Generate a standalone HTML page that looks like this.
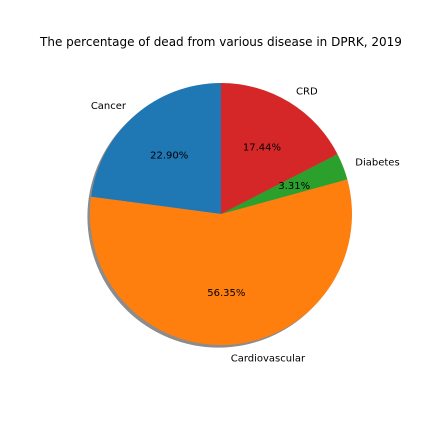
<!DOCTYPE html>
<html><head><meta charset="utf-8"><style>
body{margin:0;background:#fff}
svg{display:block;font-family:"DejaVu Sans","Liberation Sans",sans-serif}
</style></head><body>
<svg id="chart" width="432" height="432" viewBox="0 0 432 432">
<rect width="432" height="432" fill="#fff"/>
<text x="221" y="46" font-size="12" text-anchor="middle">The percentage of dead from various disease in DPRK, 2019</text>
<g id="shadow"></g>
<g id="slices"></g>
<g id="labels"></g>
</svg>
<script>
const categories=["Cancer","Cardiovascular","Diabetes","CRD"];
const values=[22.90,56.35,3.31,17.44];
const colors=["#1f77b4","#ff7f0e","#2ca02c","#d62728"];
const cx=221,cy=214,R=131;
const ns="http://www.w3.org/2000/svg";
const total=values.reduce((a,b)=>a+b,0);
function pt(deg,r){const a=deg*Math.PI/180;return [cx+r*Math.cos(a),cy-r*Math.sin(a)];}
const sh=document.createElementNS(ns,"circle");
sh.setAttribute("cx",cx-2.6);sh.setAttribute("cy",cy+2.6);sh.setAttribute("r",R);
sh.setAttribute("fill","#000");sh.setAttribute("fill-opacity","0.45");


document.getElementById("shadow").appendChild(sh);
let start=90;
values.forEach((v,i)=>{
  const sweep=v/total*360,end=start+sweep;
  const [x1,y1]=pt(start,R),[x2,y2]=pt(end,R);
  const p=document.createElementNS(ns,"path");
  p.setAttribute("d",`M${cx},${cy}L${x1},${y1}A${R},${R} 0 ${sweep>180?1:0} 0 ${x2},${y2}Z`);
  p.setAttribute("fill",colors[i]);
  
  
  document.getElementById("slices").appendChild(p);
  const mid=(start+end)/2;
  const [lx,ly]=pt(mid,R*1.1);
  const t=document.createElementNS(ns,"text");
  t.setAttribute("x",lx);t.setAttribute("y",ly+3.5);t.setAttribute("font-size","10");
  t.setAttribute("text-anchor",Math.cos(mid*Math.PI/180)<0?"end":"start");
  t.textContent=categories[i];
  
  
  document.getElementById("labels").appendChild(t);
  const [px,py]=pt(mid,R*0.6);
  const q=document.createElementNS(ns,"text");
  q.setAttribute("x",px);q.setAttribute("y",py+3.5);q.setAttribute("font-size","10");
  q.setAttribute("text-anchor","middle");
  q.textContent=v.toFixed(2)+"%";
  
  
  document.getElementById("labels").appendChild(q);
  start=end;
});
</script>
</body></html>
